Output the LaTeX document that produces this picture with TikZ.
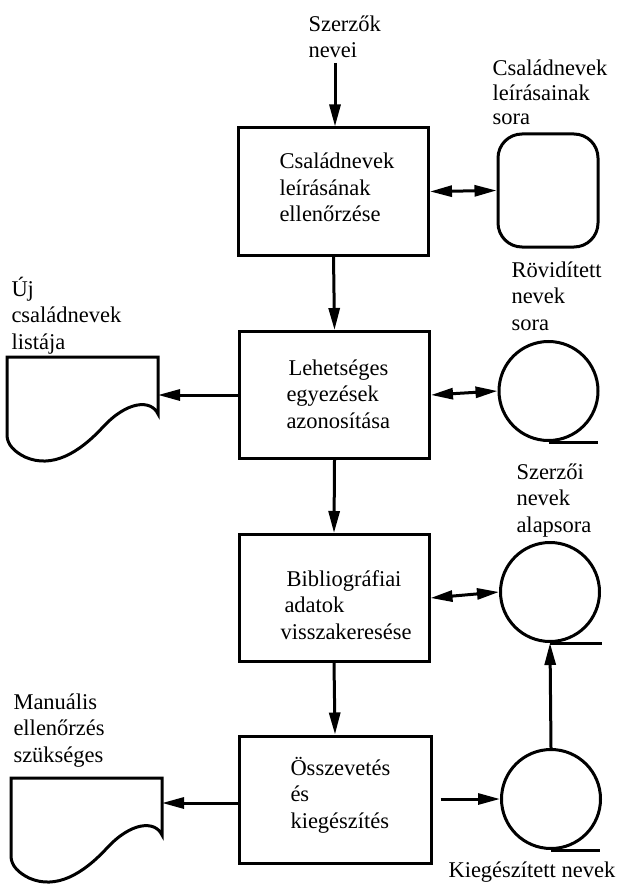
\documentclass[tikz,border=0pt]{standalone}
\usepackage{fontspec}
\setmainfont{Liberation Serif}
\usetikzlibrary{arrows.meta}
\begin{document}
\begin{tikzpicture}[x=1pt,y=-1pt,line width=3pt,
  >={Triangle[length=22pt,width=11pt]},
  lbl/.style={inner sep=0pt,align=left,anchor=base west,font=\fontsize{22.5}{26.5}\selectfont},
  proc/.style={draw,minimum width=190pt,minimum height=127pt,inner sep=0pt},
  tape/.style={draw,circle,minimum size=99pt,inner sep=0pt},
  drum/.style={draw,rounded corners=24pt,minimum width=100pt,minimum height=113pt,inner sep=0pt},
  docshape/.pic={\draw (0,0) -- (151,0) -- (151,57)
      .. controls (144,42) and (120,44) .. (96,70)
      .. controls (72,96) and (45,112) .. (18,100)
      .. controls (8,95) and (0,88) .. (0,78) -- cycle;}]
\useasboundingbox (0,0) rectangle (618,885);

% process boxes
\node[proc] (b1) at (333.5,191.5) {};
\node[proc] (b2) at (334.5,395) {};
\node[proc] (b3) at (334,598) {};
\node[proc,minimum width=192pt] (b4) at (335,799.5) {};

\node[lbl] (t1) at (278,222) {Családnevek\\leírásának\\ellenőrzése};
\node[lbl] (t2) at (285,428) {\hspace*{2pt}Lehetséges\\egyezések\\azonosítása};
\node[lbl] (t3) at (279,639) {\hspace*{6pt}Bibliográfiai\\\hspace*{4pt}adatok\\visszakeresése};
\node[lbl] (t4) at (289,828) {Összevetés\\és\\kiegészítés};

% storage
\node[drum] (dr) at (548,190.5) {};
\node[tape] (tp1) at (548.5,391) {};
\node[tape] (tp2) at (550,592) {};
\node[tape] (tp3) at (551,799) {};
\draw (tp1.south) -- ++(49,0);
\draw (tp2.south) -- ++(52,0);
\draw (tp3.south) -- ++(49,0);

% documents
\pic at (7,357) {docshape};
\pic at (11,778) {docshape};
\coordinate (d1) at (158,395);
\coordinate (d2) at (162,803);

% labels
\node[lbl] (l0) at (307,58) {Szerzők\\nevei};
\node[lbl,font=\fontsize{22.5}{24.5}\selectfont] (l1) at (491,125) {Családnevek\\leírásainak\\sora};
\node[lbl] (l2) at (10,349) {Új\\családnevek\\listája};
\node[lbl] (l3) at (510,330) {Rövidített\\nevek\\sora};
\node[lbl] (l4) at (515,532) {Szerzői\\nevek\\alapsora};
\node[lbl] (l5) at (12,762) {Manuális\\ellenőrzés\\szükséges};
\node[lbl] (l6) at (447,877) {Kiegészített nevek};

% connectors
\coordinate (in) at (335,63);
\draw[->] (in) -- (in |- b1.north);
\draw[->] (b1.south) -- (b2.north);
\draw[->] (b2.south) -- (b3.north);
\draw[->] (b3.south) -- (b4.north);
\draw[<->] (b1.east) -- (dr.west);
\draw[<->] (b2.east) -- (tp1.west);
\draw[<->] (b3.east) -- (tp2.west);
\draw[->] (b2.west) -- (b2.west -| d1);
\draw[->] (b4.west |- d2) -- (d2);
\draw[->,shorten <=8pt] (b4.east |- tp3.west) -- (tp3.west);
\draw[->] (tp3.north) -- (tp2.south);
\end{tikzpicture}
\end{document}
